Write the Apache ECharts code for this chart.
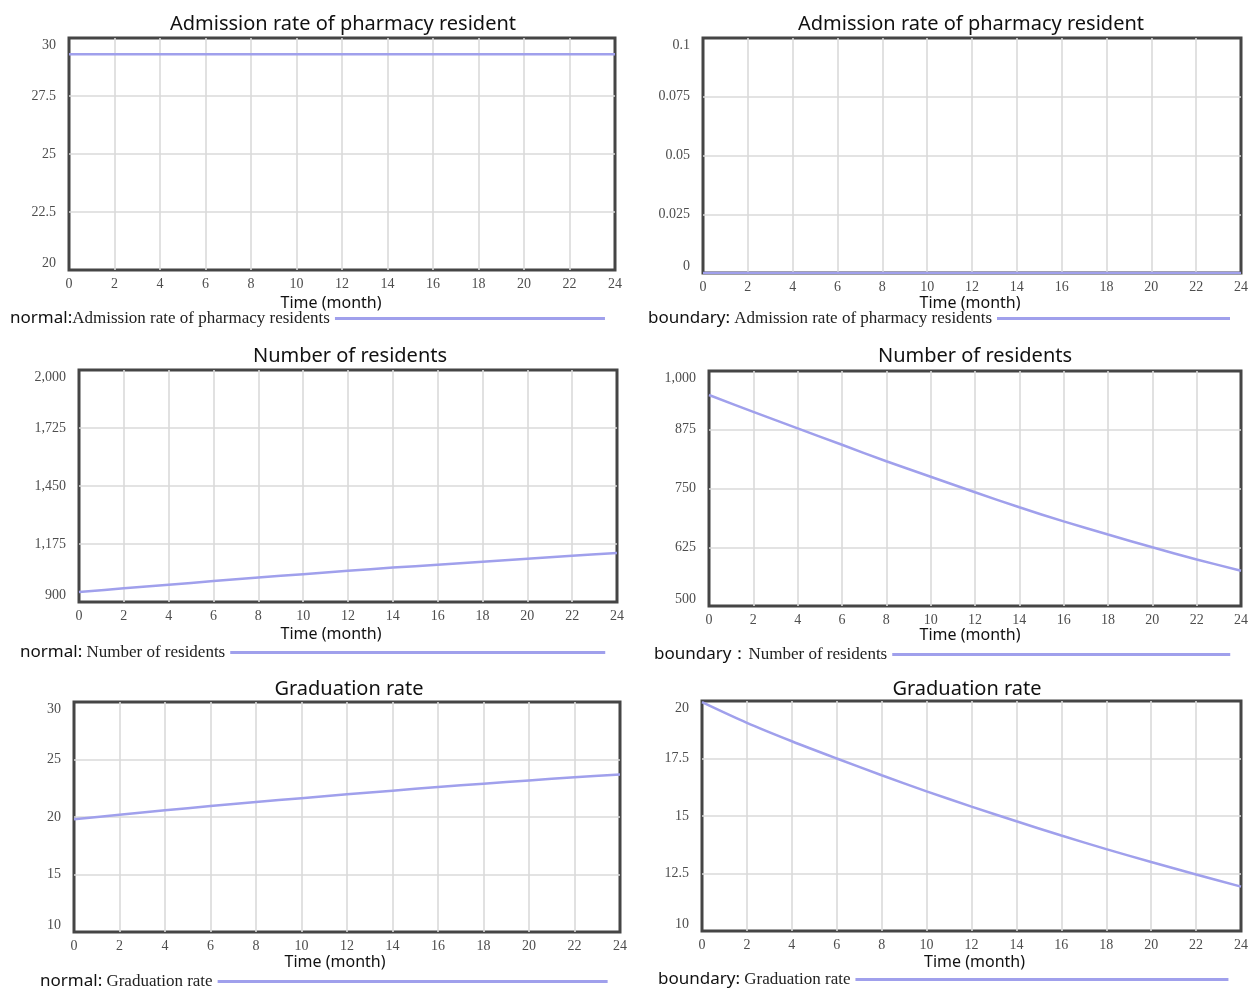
<!DOCTYPE html>
<html>
<head>
<meta charset="utf-8">
<script src="https://cdn.jsdelivr.net/npm/echarts@6/dist/echarts.min.js"></script>
<style>
html,body{margin:0;padding:0;background:#fff;}
#chart{width:1255px;height:990px;}
</style>
</head>
<body>
<div id="chart"></div>
<script>
// ---- data ----
const months = [0, 2, 4, 6, 8, 10, 12, 14, 16, 18, 20, 22, 24];
const admissionNormal   = [29.3, 29.3, 29.3, 29.3, 29.3, 29.3, 29.3, 29.3, 29.3, 29.3, 29.3, 29.3, 29.3];
const admissionBoundary = [0, 0, 0, 0, 0, 0, 0, 0, 0, 0, 0, 0, 0];
const residentsNormal   = [947, 965, 982, 999, 1016, 1032, 1048, 1063, 1077, 1091, 1105, 1119, 1132];
const residentsBoundary = [949, 913, 878, 843, 808, 775, 742, 710, 680, 652, 625, 599, 575];
const gradNormal        = [19.8, 20.2, 20.58, 20.95, 21.3, 21.64, 21.97, 22.29, 22.6, 22.9, 23.18, 23.45, 23.7];
const gradBoundary      = [19.95, 19.05, 18.25, 17.5, 16.77, 16.07, 15.41, 14.77, 14.15, 13.56, 13.0, 12.46, 11.93];

const titles = ['Admission rate of pharmacy resident', 'Admission rate of pharmacy resident',
                'Number of residents', 'Number of residents',
                'Graduation rate', 'Graduation rate'];
const legendPrefixes = ['normal:', 'boundary:', 'normal:', 'boundary\uFF1A', 'normal:', 'boundary:'];
const legendLabels = ['Admission rate of pharmacy residents', ' Admission rate of pharmacy residents',
                      ' Number of residents', 'Number of residents',
                      ' Graduation rate', ' Graduation rate'];
const xAxisName = 'Time (month)';
const yMins = [20, 0, 900, 500, 10, 10];
const yMaxs = [30, 0.1, 2000, 1000, 30, 20];
const yIntervals = [2.5, 0.025, 275, 125, 5, 2.5];
const seriesValues = [admissionNormal, admissionBoundary, residentsNormal, residentsBoundary, gradNormal, gradBoundary];

// ---- layout (pixels) ----
const grids = [
  {left: 69, top: 38, width: 546, height: 232},
  {left: 703, top: 38, width: 538, height: 235},
  {left: 79, top: 370, width: 538, height: 232},
  {left: 709, top: 371, width: 532, height: 235},
  {left: 74, top: 702, width: 546, height: 230},
  {left: 702, top: 701, width: 539, height: 230}
];
const titlePos = [[343, 24], [971, 24], [350, 356], [975, 356], [349, 689], [967, 689]];
const xNameGap = [25, 22, 24, 20, 22, 23];
const xNameShift = [-11, -2, -17, -5, -12, 3];
const legendStartX = [10, 648, 20, 654, 40, 658];
const legendCenterY = [319, 319, 653, 655, 982, 980];
const legendLineEnd = [605, 1230, 605, 1230, 608, 1228];

const LINE_COLOR = '#a0a0ec';
const LEG_FONT = 17;
const seriesNames = legendPrefixes.map((p, i) => p + legendLabels[i]);

// measure legend text to place the sample line where it ends in the reference
const mctx = document.createElement('canvas').getContext('2d');
function textW(str, fam) { mctx.font = LEG_FONT + 'px ' + fam; return mctx.measureText(str).width; }
const legendItemW = seriesNames.map((n, i) => {
  const tw = textW(legendPrefixes[i], '"Noto Sans"') + textW(legendLabels[i], '"Liberation Serif"');
  return Math.max(40, Math.round(legendLineEnd[i] - (legendStartX[i] + tw + 5)));
});

function fmtNum(v) {
  if (Math.abs(v) >= 1000) return v.toLocaleString('en-US');
  return String(+v.toFixed(4));
}

const option = {
  animation: false,
  backgroundColor: '#ffffff',
  grid: grids.map(g => Object.assign({}, g, {show: true, borderColor: '#454545', borderWidth: 3, backgroundColor: '#ffffff', containLabel: false})),
  xAxis: grids.map((g, i) => ({
    type: 'value', gridIndex: i, min: 0, max: 24, interval: 2,
    name: xAxisName, nameLocation: 'middle', nameGap: xNameGap[i],
    nameTextStyle: {
      fontFamily: 'Noto Sans', fontSize: 16, color: '#111',
      padding: xNameShift[i] < 0 ? [0, -2 * xNameShift[i], 0, 0] : [0, 0, 0, 2 * xNameShift[i]]
    },
    axisLine: {show: false}, axisTick: {show: false},
    axisLabel: {fontFamily: 'Liberation Serif', fontSize: 14, color: '#4d4d4d', margin: 7},
    splitLine: {show: true, showMinLine: false, showMaxLine: false, lineStyle: {color: '#dadada', width: 1.6}}
  })),
  yAxis: grids.map((g, i) => ({
    type: 'value', gridIndex: i, min: yMins[i], max: yMaxs[i], interval: yIntervals[i],
    axisLine: {show: false}, axisTick: {show: false},
    axisLabel: {
      fontFamily: 'Liberation Serif', fontSize: 14, color: '#4d4d4d', margin: 13,
      formatter: v => {
        const s = fmtNum(v);
        if (Math.abs(v - yMaxs[i]) < 1e-9) return '{top|' + s + '}';
        if (Math.abs(v - yMins[i]) < 1e-9) return '{bot|' + s + '}';
        return s;
      },
      rich: {
        top: {fontFamily: 'Liberation Serif', fontSize: 14, color: '#4d4d4d', padding: [14, 0, 0, 0]},
        bot: {fontFamily: 'Liberation Serif', fontSize: 14, color: '#4d4d4d', padding: [0, 0, 14, 0]}
      }
    },
    splitLine: {show: true, showMinLine: false, showMaxLine: false, lineStyle: {color: '#dadada', width: 1.6}}
  })),
  legend: seriesNames.map((n, i) => ({
    left: legendStartX[i], top: legendCenterY[i] - 9, padding: 0,
    data: [n],
    icon: 'rect', itemWidth: legendItemW[i], itemHeight: 3, align: 'right',
    selectedMode: false,
    formatter: name => {
      const k = seriesNames.indexOf(name);
      return '{a|' + legendPrefixes[k] + '}{b|' + legendLabels[k] + '}';
    },
    textStyle: {
      rich: {
        a: {fontFamily: 'Noto Sans', fontSize: LEG_FONT, lineHeight: 18, color: '#111'},
        b: {fontFamily: 'Liberation Serif', fontSize: LEG_FONT, lineHeight: 18, color: '#222'}
      }
    }
  })),
  graphic: titles.map((t, i) => ({
    type: 'text', x: titlePos[i][0], y: titlePos[i][1], silent: true,
    style: {text: t, align: 'center', verticalAlign: 'middle', fontFamily: 'Noto Sans', fontSize: 20, fill: '#111'}
  })),
  series: seriesValues.map((vals, i) => ({
    type: 'line', name: seriesNames[i], xAxisIndex: i, yAxisIndex: i,
    data: months.map((m, j) => [m, vals[j]]),
    showSymbol: false, symbol: 'none', smooth: 0.3,
    lineStyle: {color: LINE_COLOR, width: 2.5},
    itemStyle: {color: LINE_COLOR},
    z: 3
  }))
};

const chart = echarts.init(document.getElementById('chart'), null, {renderer: 'canvas'});
chart.setOption(option);
</script>
</body>
</html>
